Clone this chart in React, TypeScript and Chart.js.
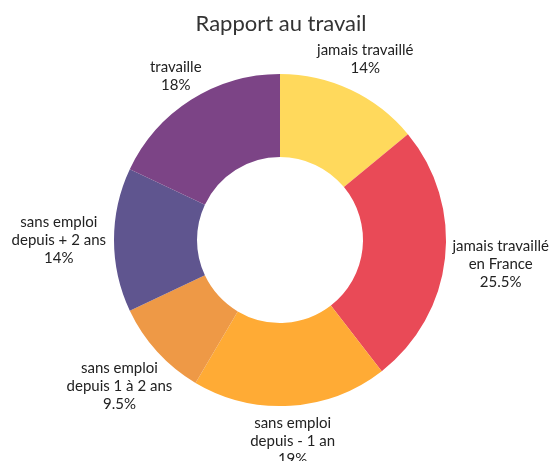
import React, { useEffect, useRef } from "react";
import { Chart, registerables } from "chart.js";

Chart.register(...registerables);

const TITLE = "Rapport au travail";
const categories: string[][] = [
  ["jamais travaillé"],
  ["jamais travaillé", "en France"],
  ["sans emploi", "depuis - 1 an"],
  ["sans emploi", "depuis 1 à 2 ans"],
  ["sans emploi", "depuis + 2 ans"],
  ["travaille"],
];
const values: number[] = [14, 25.5, 19, 9.5, 14, 18];
const colors: string[] = ["#FFD95C", "#E94A57", "#FFAB35", "#EE9946", "#5F558F", "#7C4486"];

const LABEL_FONT = "15px Lato";
const LINE_H = 18;
const GAP = 8;

const labelPlugin = {
  id: "outerLabels",
  afterDraw(chart: any) {
    const ctx = chart.ctx;
    const meta = chart.getDatasetMeta(0);
    ctx.save();
    // title
    ctx.font = "22px Lato";
    ctx.fillStyle = "#333";
    ctx.textAlign = "center";
    ctx.textBaseline = "alphabetic";
    ctx.fillText(TITLE, 281, 31);

    ctx.font = LABEL_FONT;
    ctx.fillStyle = "#222";
    ctx.textBaseline = "middle";
    meta.data.forEach((arc: any, i: number) => {
      const lines = [...categories[i], values[i] + "%"];
      const mid = (arc.startAngle + arc.endAngle) / 2;
      const dx = Math.cos(mid);
      const dy = Math.sin(mid);
      const w = Math.max(...lines.map((l) => ctx.measureText(l).width));
      const h = lines.length * LINE_H;
      const ext = Math.sqrt(Math.pow((dx * w) / 2, 2) + Math.pow((dy * h) / 2, 2));
      const d = arc.outerRadius + GAP + ext;
      const cx = arc.x + dx * d;
      const cy = arc.y + dy * d;
      lines.forEach((l, j) => {
        ctx.fillText(l, cx, cy - h / 2 + LINE_H / 2 + j * LINE_H);
      });
    });
    ctx.restore();
  },
};

export default function App() {
  const ref = useRef<HTMLCanvasElement | null>(null);
  useEffect(() => {
    if (!ref.current) return;
    const chart = new Chart(ref.current, {
      type: "doughnut",
      data: {
        labels: categories.map((c) => c.join(" ")),
        datasets: [
          {
            data: values,
            backgroundColor: colors,
            borderWidth: 0,
            radius: 166,
            cutout: 83,
          } as any,
        ],
      },
      options: {
        responsive: false,
        animation: false,
        layout: { padding: { left: 114, right: 105, top: 74, bottom: 55 } },
        plugins: {
          legend: { display: false },
          tooltip: { enabled: false },
          title: { display: false },
        },
      },
      plugins: [labelPlugin],
    });
    return () => chart.destroy();
  }, []);
  return (
    <div style={{ position: "absolute", left: 0, top: 0, width: 551, height: 461, background: "#fff" }}>
      <canvas ref={ref} width={551} height={461} style={{ width: 551, height: 461 }} />
    </div>
  );
}
